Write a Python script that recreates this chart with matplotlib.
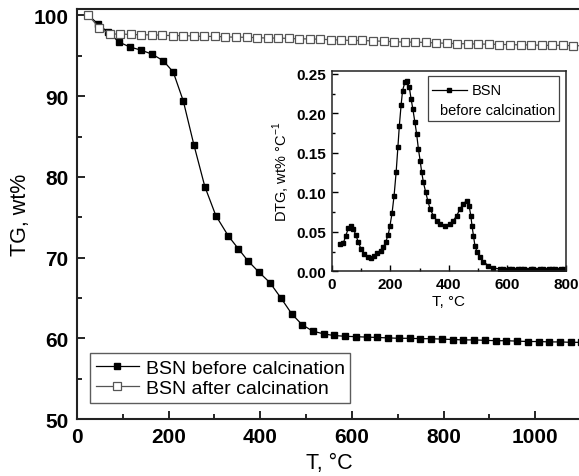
import numpy as np
import matplotlib.pyplot as plt
from matplotlib.lines import Line2D
from matplotlib.patches import Rectangle
from matplotlib.ticker import MultipleLocator

plt.rcParams['font.family'] = ['Liberation Sans', 'DejaVu Sans']
plt.rcParams['mathtext.fontset'] = 'custom'
plt.rcParams['mathtext.rm'] = 'Liberation Sans'

# TG, before calcination (filled squares)
t_before = [25, 45, 68, 92, 115, 140, 164, 188, 210, 232, 255, 279, 303, 330, 352, 373, 397,
            421, 445, 469, 491, 514, 538, 560, 585, 608, 632, 655, 679, 702, 726, 749, 773,
            796, 820, 843, 867, 890, 914, 937, 961, 984, 1008, 1031, 1055, 1078, 1100]
tg_before = [100.0, 99.0, 97.9, 96.7, 96.1, 95.7, 95.2, 94.4, 93.0, 89.4, 84.0, 78.8, 75.2,
             72.7, 71.1, 69.6, 68.2, 66.9, 65.0, 63.0, 61.7, 60.9, 60.55, 60.35, 60.25, 60.2,
             60.15, 60.1, 60.05, 60.0, 60.0, 59.95, 59.95, 59.9, 59.85, 59.8, 59.8, 59.75,
             59.7, 59.7, 59.65, 59.6, 59.6, 59.55, 59.55, 59.5, 59.5]

# TG, after calcination (open squares)
t_after = [25, 48, 71, 94, 117, 140, 163, 186, 209, 232, 255, 278, 301, 324, 347, 370, 393,
           416, 439, 462, 485, 508, 531, 554, 577, 600, 623, 646, 669, 692, 715, 738, 761,
           784, 807, 830, 853, 876, 899, 922, 945, 968, 991, 1014, 1037, 1060, 1083, 1106]
tg_after = [100.0, 98.5, 97.7, 97.7, 97.65, 97.6, 97.6, 97.55, 97.5, 97.5, 97.45, 97.4, 97.4,
            97.35, 97.3, 97.3, 97.25, 97.2, 97.2, 97.15, 97.1, 97.1, 97.05, 97.0, 96.95, 96.9,
            96.9, 96.85, 96.8, 96.75, 96.7, 96.7, 96.65, 96.6, 96.55, 96.5, 96.5, 96.45,
            96.45, 96.4, 96.4, 96.35, 96.35, 96.3, 96.3, 96.3, 96.25, 96.25]

# DTG, before calcination (inset)
t_dtg = [28, 40, 48, 57, 66, 74, 82, 91, 100, 111, 123, 133, 144, 156, 167, 176, 184, 193,
         199, 206, 213, 220, 226, 231, 237, 242, 250, 258, 265, 271, 277, 284, 290, 296, 302,
         307, 313, 321, 328, 336, 347, 359, 370, 387, 404, 415, 427, 438, 449, 461, 469, 475,
         479, 484, 489, 497, 506, 518, 535, 552, 575, 585, 595, 605, 616, 626, 637, 647, 658,
         668, 679, 689, 700, 710, 721, 731, 742, 752, 763, 773, 784, 794]
dtg = [0.0346, 0.0359, 0.0451, 0.0545, 0.0578, 0.0536, 0.0464, 0.0367, 0.0283, 0.0215,
       0.0185, 0.0172, 0.0198, 0.0228, 0.0261, 0.0304, 0.0367, 0.0464, 0.0578, 0.0735,
       0.0958, 0.1254, 0.1571, 0.1845, 0.2107, 0.2288, 0.2395, 0.2415, 0.2331, 0.2183,
       0.2057, 0.1888, 0.174, 0.155, 0.1401, 0.1262, 0.1128, 0.1001, 0.0895, 0.0789, 0.0705,
       0.0641, 0.0599, 0.0578, 0.0599, 0.0641, 0.0705, 0.0789, 0.0853, 0.0895, 0.0831,
       0.0705, 0.0578, 0.0451, 0.0324, 0.0241, 0.0177, 0.0122, 0.0071, 0.0042, 0.0029,
       0.0025, 0.002, 0.0025, 0.003, 0.002, 0.0035, 0.0025, 0.003, 0.002, 0.0035, 0.0025,
       0.002, 0.003, 0.0025, 0.002, 0.0025, 0.003, 0.0025, 0.002, 0.0035, 0.003]

fig = plt.figure(figsize=(5.79, 4.77), dpi=100)
W, H = 579, 477

# main axes
ax = fig.add_axes([77 / W, (H - 420) / H, (581 - 77) / W, (420 - 10) / H])
ax.plot(t_before, tg_before, '-s', color='black', lw=0.9, ms=4.8, mfc='black',
        mec='black', label='BSN before calcination', zorder=2)
ax.plot(t_after, tg_after, '-s', color='#555555', lw=0.9, ms=5.3, mfc='white',
        mec='#555555', mew=0.9, label='BSN after calcination', zorder=3)
ax.set_xlim(0, 1100)
ax.set_ylim(50, 100.8)
ax.xaxis.set_major_locator(MultipleLocator(200))
ax.xaxis.set_minor_locator(MultipleLocator(100))
ax.yaxis.set_major_locator(MultipleLocator(10))
ax.yaxis.set_minor_locator(MultipleLocator(5))
ax.tick_params(which='both', direction='in', width=1.2, labelsize=15, pad=6)
ax.tick_params(which='major', length=6)
ax.tick_params(which='minor', length=3.5)
for lab in ax.get_xticklabels() + ax.get_yticklabels():
    lab.set_fontweight('bold')
for s in ax.spines.values():
    s.set_linewidth(1.5)
    s.set_color('#222222')
ax.set_xlabel('T, °C', fontsize=15.5, labelpad=4)
ax.set_ylabel('TG, wt%', fontsize=15.5, labelpad=2)

leg = ax.legend(loc='lower left', bbox_to_anchor=(0.026, 0.039),
                borderaxespad=0, fontsize=14, frameon=True, fancybox=False,
                edgecolor='#333333', handlelength=2.2, handletextpad=0.35,
                labelspacing=0.15, borderpad=0.3)
leg.get_frame().set_linewidth(1.0)

# inset axes
ia = fig.add_axes([331.7 / W, (H - 272.3) / H, (566 - 331.7) / W, (272.3 - 71.7) / H])
ia.plot(t_dtg, dtg, '-s', color='black', lw=0.9, ms=2.4)
ia.set_xlim(0, 800)
ia.set_ylim(0, 0.254)
ia.xaxis.set_major_locator(MultipleLocator(200))
ia.xaxis.set_minor_locator(MultipleLocator(100))
ia.yaxis.set_major_locator(MultipleLocator(0.05))
ia.yaxis.set_minor_locator(MultipleLocator(0.025))
ia.yaxis.set_major_formatter(plt.FormatStrFormatter('%.2f'))
ia.tick_params(which='both', direction='in', width=1.0, labelsize=11, pad=4)
ia.tick_params(which='major', length=4)
ia.tick_params(which='minor', length=2.5)
for lab in ia.get_xticklabels() + ia.get_yticklabels():
    lab.set_fontweight('bold')
for s in ia.spines.values():
    s.set_linewidth(1.1)
    s.set_color('#222222')
ia.set_xlabel('T, °C', fontsize=11, labelpad=2)
ia.set_ylabel('DTG, wt% °C$^{-1}$', fontsize=10.5, labelpad=3)

# inset legend, drawn by hand (two-line label)
ia.add_patch(Rectangle((0.411, 0.749), 0.559, 0.225, transform=ia.transAxes,
                       fill=False, edgecolor='#444444', lw=0.9, zorder=5))
ia.add_line(Line2D([0.427, 0.577], [0.905, 0.905], transform=ia.transAxes,
                   color='black', lw=0.9, zorder=5))
ia.add_line(Line2D([0.502], [0.905], transform=ia.transAxes, marker='s', ms=2.4,
                   color='black', zorder=5))
ia.text(0.599, 0.905, 'BSN', transform=ia.transAxes, fontsize=10.5, va='center', ha='left')
ia.text(0.462, 0.806, 'before calcination', transform=ia.transAxes, fontsize=10.5,
        va='center', ha='left')

fig.savefig('out.png', dpi=100)
